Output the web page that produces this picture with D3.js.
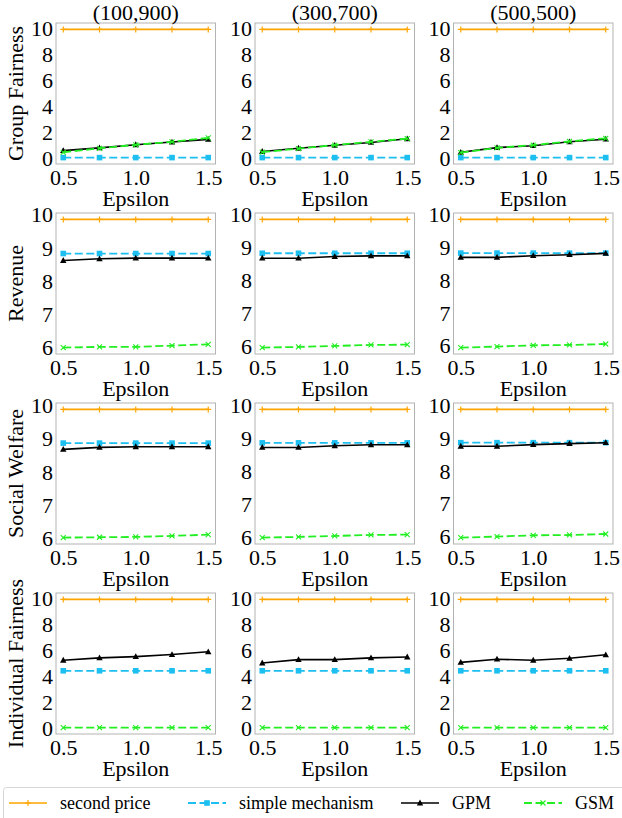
<!DOCTYPE html>
<html><head><meta charset="utf-8">
<script src="https://cdn.jsdelivr.net/npm/d3@7"></script>
<style>body{margin:0;background:#fff}svg{display:block}</style>
</head><body>
<svg id="c" width="622" height="818"></svg>
<script>
const epsilon = [0.5, 0.75, 1.0, 1.25, 1.5];
const xTicks = [0.5, 1.0, 1.5];
const settings = ["(100,900)", "(300,700)", "(500,500)"];
const metrics = ["Group Fairness", "Revenue", "Social Welfare", "Individual Fairness"];
const yTicksFair = [0, 2, 4, 6, 8, 10];
const yTicksMoney = [6, 7, 8, 9, 10];
const seriesNames = ["second price", "simple mechanism", "GPM", "GSM"];

// Group Fairness [setting][epsilon]
const gfSecond = [[9.93,9.93,9.93,9.93,9.93],[9.93,9.93,9.93,9.93,9.93],[9.93,9.93,9.93,9.93,9.93]];
const gfSimple = [[0.03,0.03,0.03,0.03,0.03],[0.03,0.03,0.03,0.03,0.03],[0.03,0.03,0.03,0.03,0.03]];
const gfGPM = [[0.57,0.78,1.02,1.23,1.44],[0.50,0.75,0.98,1.20,1.48],[0.44,0.80,0.95,1.25,1.45]];
const gfGSM = [[0.44,0.75,1.02,1.25,1.55],[0.45,0.72,1.00,1.25,1.50],[0.42,0.78,1.00,1.28,1.52]];
// Revenue
const revSecond = [[9.85,9.85,9.85,9.85,9.85],[9.85,9.85,9.85,9.85,9.85],[9.85,9.85,9.85,9.85,9.85]];
const revSimple = [[8.82,8.82,8.82,8.82,8.82],[8.82,8.82,8.82,8.82,8.82],[8.82,8.82,8.82,8.82,8.82]];
const revGPM = [[8.61,8.66,8.68,8.68,8.68],[8.67,8.67,8.72,8.74,8.74],[8.69,8.69,8.74,8.77,8.81]];
const revGSM = [[5.98,6.00,6.00,6.04,6.08],[5.95,5.97,6.00,6.03,6.04],[5.93,5.96,6.00,6.01,6.04]];
// Social Welfare
const swSecond = [[9.88,9.88,9.88,9.88,9.88],[9.88,9.88,9.88,9.88,9.88],[9.88,9.88,9.88,9.88,9.88]];
const swSimple = [[8.86,8.86,8.86,8.86,8.86],[8.86,8.86,8.86,8.86,8.86],[8.86,8.86,8.86,8.86,8.86]];
const swGPM = [[8.67,8.73,8.75,8.75,8.75],[8.72,8.72,8.77,8.80,8.80],[8.75,8.75,8.80,8.83,8.86]];
const swGSM = [[6.00,6.01,6.02,6.05,6.09],[5.97,5.99,6.02,6.05,6.06],[5.95,5.98,6.02,6.03,6.06]];
// Individual Fairness
const ifSecond = [[9.93,9.93,9.93,9.93,9.93],[9.93,9.93,9.93,9.93,9.93],[9.93,9.93,9.93,9.93,9.93]];
const ifSimple = [[4.44,4.44,4.44,4.44,4.44],[4.44,4.44,4.44,4.44,4.44],[4.44,4.44,4.44,4.44,4.44]];
const ifGPM = [[5.25,5.43,5.53,5.69,5.90],[5.04,5.30,5.30,5.43,5.50],[5.09,5.33,5.25,5.40,5.67]];
const ifGSM = [[0.07,0.07,0.07,0.07,0.07],[0.07,0.07,0.07,0.07,0.07],[0.07,0.07,0.07,0.07,0.07]];

const rowData = [
  [gfSecond, gfSimple, gfGPM, gfGSM],
  [revSecond, revSimple, revGPM, revGSM],
  [swSecond, swSimple, swGPM, swGSM],
  [ifSecond, ifSimple, ifGPM, ifGSM]
];
const rowTicks = [yTicksFair, yTicksMoney, yTicksMoney, yTicksFair];

const styles = [
  {color: "#ffa500", dash: null, width: 1.6, marker: "plus"},
  {color: "#1cbff0", dash: "8,3.5", width: 1.8, marker: "square"},
  {color: "#000000", dash: null, width: 1.6, marker: "triangle"},
  {color: "#22ee22", dash: "8,3.5", width: 1.8, marker: "cross"}
];

const FONT = '"Liberation Serif", "Times New Roman", Times, serif';
const colLeft = [56, 255, 453.5];
const panelW = 159.5;
const rowTop = [23, 213, 403, 593];
const panelH = 141;
const svg = d3.select("#c");

function drawMarker(g, type, x, y, color) {
  if (type === "plus") {
    g.append("path").attr("d", `M${x-3},${y}H${x+3}M${x},${y-3}V${y+3}`).attr("stroke", color).attr("stroke-width", 1.2);
  } else if (type === "square") {
    g.append("rect").attr("x", x-2.8).attr("y", y-2.8).attr("width", 5.6).attr("height", 5.6).attr("fill", color);
  } else if (type === "triangle") {
    g.append("path").attr("d", `M${x},${y-3.4}L${x+3.2},${y+2.4}L${x-3.2},${y+2.4}Z`).attr("fill", color);
  } else {
    g.append("path").attr("d", `M${x-2.5},${y-2.5}L${x+2.5},${y+2.5}M${x-2.5},${y+2.5}L${x+2.5},${y-2.5}`).attr("stroke", color).attr("stroke-width", 1.1);
  }
}

rowData.forEach((series, r) => {
  settings.forEach((setting, c) => {
    const x0 = colLeft[c], y0 = rowTop[r];
    const all = series.flatMap(s => s[c]);
    const mn = d3.min(all), mx = d3.max(all), pad = (mx - mn) * 0.05;
    const x = d3.scaleLinear().domain([0.45, 1.55]).range([x0, x0 + panelW]);
    const y = d3.scaleLinear().domain([mn - pad, mx + pad]).range([y0 + panelH, y0]);
    const g = svg.append("g");
    g.append("rect").attr("x", x0).attr("y", y0).attr("width", panelW).attr("height", panelH)
      .attr("fill", "#fff").attr("stroke", "#b3b3b3").attr("stroke-width", 1);

    const ya = d3.axisLeft(y).tickValues(rowTicks[r]).tickSize(0).tickPadding(3).tickFormat(d3.format("d"));
    const yg = g.append("g").attr("transform", `translate(${x0},0)`).call(ya);
    yg.select(".domain").remove();
    yg.attr("font-family", null).attr("font-size", null);
    yg.selectAll("text").style("font-family", FONT).style("font-size", "22px").attr("fill", "#000").attr("dy", "0.34em");
    const xa = d3.axisBottom(x).tickValues(xTicks).tickSize(0).tickPadding(5).tickFormat(d3.format(".1f"));
    const xg = g.append("g").attr("transform", `translate(0,${y0 + panelH})`).call(xa);
    xg.select(".domain").remove();
    xg.attr("font-family", null).attr("font-size", null);
    xg.selectAll("text").style("font-family", FONT).style("font-size", "22px").attr("fill", "#000").attr("dy", "0.71em");

    g.append("text").attr("x", x0 + panelW / 2).attr("y", y0 + panelH + 42)
      .attr("text-anchor", "middle").style("font-family", FONT).style("font-size", "22px").text("Epsilon");
    if (r === 0) {
      g.append("text").attr("x", x0 + panelW / 2).attr("y", 19.5)
        .attr("text-anchor", "middle").style("font-family", FONT).style("font-size", "22px").text(setting);
    }
    if (c === 0) {
      g.append("text").attr("transform", `translate(23,${y0 + panelH / 2}) rotate(-90)`)
        .attr("text-anchor", "middle").style("font-family", FONT).style("font-size", "22px").text(metrics[r]);
    }

    const line = d3.line().x((d, i) => x(epsilon[i])).y(d => y(d));
    series.forEach((s, k) => {
      const st = styles[k];
      g.append("path").datum(s[c]).attr("d", line).attr("fill", "none")
        .attr("stroke", st.color).attr("stroke-width", st.width)
        .attr("stroke-dasharray", st.dash);
      s[c].forEach((v, i) => drawMarker(g, st.marker, x(epsilon[i]), y(v), st.color));
    });
  });
});

// legend
const lg = svg.append("g");
lg.append("rect").attr("x", 3.5).attr("y", 787.5).attr("width", 640).attr("height", 40).attr("rx", 3)
  .attr("fill", "#fff").attr("stroke", "#d6d6d6");
const legX = [9, 188, 401, 524];
const legY = 803;
seriesNames.forEach((name, k) => {
  const st = styles[k];
  const lx = legX[k];
  lg.append("line").attr("x1", lx).attr("x2", lx + 38).attr("y1", legY).attr("y2", legY)
    .attr("stroke", st.color).attr("stroke-width", st.width).attr("stroke-dasharray", st.dash);
  drawMarker(lg, st.marker, lx + 19, legY, st.color);
  lg.append("text").attr("x", lx + 51).attr("y", legY + 6).style("font-family", FONT).style("font-size", "18px").text(name);
});
</script>
</body></html>
